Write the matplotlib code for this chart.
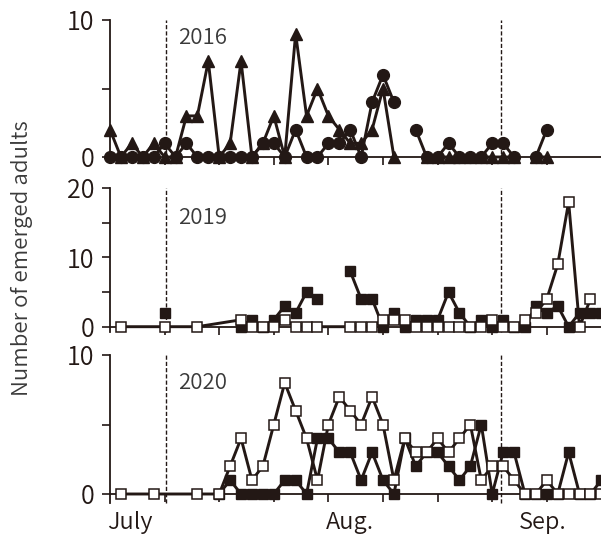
import numpy as np
import matplotlib
matplotlib.use("Agg")
import matplotlib.pyplot as plt

plt.rcParams['font.family'] = ['Noto Sans CJK JP', 'DejaVu Sans']
plt.rcParams['font.weight'] = 350

nan = np.nan
# days since start (x axis), sampled every 2 days
days = list(range(0, 92, 2))

# 2016
tri_2016 = [2, 0, 1, 0, 1, 0, 0, 3, 3, 7, 0, 1, 7, 0, 1, 3, 0, 9, 3, 5, 3, 2, 1, 1, 2, 5, 0,
            nan, nan, 0, 0, 0, 0, 0, 0, 0, 0, 0, nan, 0, 0, nan, nan, nan, nan, nan]
cir_2016 = [0, 0, 0, 0, 0, 1, 0, 1, 0, 0, 0, 0, 0, 0, 1, 1, 0, 2, 0, 0, 1, 1, 2, 0, 4, 6, 4,
            nan, 2, 0, 0, 1, 0, 0, 0, 1, 1, 0, nan, 0, 2, nan, nan, nan, nan, nan]

# 2019
fill_days_2019 = [10, 17, 24, 26, 28, 30, 32, 34, 36, 38, 41, 44, 46, 48, 50, 52, 54, 56, 58, 60, 62, 64,
                  66, 68, 70, 72, 74, 76, 78, 80, 82, 84, 86, 88, 90]
fill_2019 = [2, nan, 0, 1, 0, 1, 3, 2, 5, 4, nan, 8, 4, 4, 0, 2, 0, 1, 1, 1, 5, 2,
             0, 1, 0, 1, 0, 0, 3, 2, 3, 0, 2, 2, 2]
open_days_2019 = [2, 10, 16, 24, 26, 28, 30, 32, 34, 36, 38, 44, 46, 48, 50, 52, 54, 56, 58, 60, 62,
                  64, 66, 68, 70, 72, 74, 76, 78, 80, 82, 84, 86, 88]
open_2019 = [0, 0, 0, 1, 0, 0, 0, 1, 0, 0, 0, 0, 0, 0, 1, 1, 1, 0, 0, 0, 0,
             0, 0, 0, 1, 0, 0, 1, 2, 4, 9, 18, 0, 4]

# 2020
fill_days_2020 = list(range(20, 92, 2))
fill_2020 = [0, 1, 0, 0, 0, 0, 1, 1, 0, 4, 4, 3, 3, 1, 3, 1, 0, 4, 2, 3, 3, 2, 1, 2, 5, 0,
             3, 3, 0, 0, 0, 0, 3, 0, 0, 1]
open_days_2020 = [2, 8, 16] + list(range(20, 92, 2))
open_2020 = [0, 0, 0, 0, 2, 4, 1, 2, 5, 8, 6, 4, 1, 5, 7, 6, 5, 7, 5, 1, 4, 3, 3, 4, 3, 4, 5, 1,
             2, 2, 1, 0, 0, 1, 0, 0, 0, 0, 0]

year_labels = ["2016", "2019", "2020"]
ylims = [10, 20, 10]
ytick_major = [[0, 10], [0, 10, 20], [0, 10]]
ytick_minor = [[5], [5, 15], [5]]
month_labels = ["July", "Aug.", "Sep."]
month_pos = [3.7, 44.0, 79.3]
dash_days = [10.3, 71.7]

K = '#231815'
W, H = 601, 541
fig = plt.figure(figsize=(W / 100, H / 100), dpi=100)

px_day = 5.46
x0 = 110
panels = [(20, 157, -0.25), (188.3, 326.7, -0.77), (355, 494, -0.65)]
axes = []
for i, (top, zero, ylo) in enumerate(panels):
    ymax = ylims[i]
    ppu = (zero - top) / ymax
    bottom = zero - ylo * ppu
    ax = fig.add_axes([x0 / W, 1 - bottom / H, (90 * px_day) / W, (bottom - top) / H])
    ax.set_xlim(0, 90)
    ax.set_ylim(ylo, ymax)
    ax.spines['top'].set_visible(False)
    ax.spines['right'].set_visible(False)
    ax.spines['bottom'].set_position(('data', 0))
    for s in ['left', 'bottom']:
        ax.spines[s].set_linewidth(1.3)
        ax.spines[s].set_color(K)
    ax.set_xticks(range(10, 90, 10))
    ax.set_xticklabels([])
    ax.set_yticks(ytick_major[i] + ytick_minor[i])
    ax.set_yticklabels([str(v) for v in ytick_major[i]] + [''] * len(ytick_minor[i]))
    ax.tick_params(direction='out', length=6, width=1.2, color=K, labelsize=18,
                   labelcolor=K, pad=5)
    ax.patch.set_visible(False)
    for d in dash_days:
        ax.axvline(d, color=K, lw=1.0, ls=(0, (3, 1.5)), clip_on=False, zorder=1)
    axes.append(ax)

lw = 2.1
ax = axes[0]
ax.plot(days, tri_2016, '-^', color=K, lw=lw, ms=9, mec=K, mfc=K, clip_on=False, zorder=3)
ax.plot(days, cir_2016, '-o', color=K, lw=lw, ms=8.5, mec=K, mfc=K, clip_on=False, zorder=4)

ax = axes[1]
ax.plot(fill_days_2019, fill_2019, '-s', color=K, lw=lw, ms=7.8, mec=K, mfc=K, clip_on=False, zorder=3)
ax.plot(open_days_2019, open_2019, '-s', color=K, lw=lw, ms=7.8, mec=K, mfc='white', mew=1.1,
        clip_on=False, zorder=4)

ax = axes[2]
ax.plot(fill_days_2020, fill_2020, '-s', color=K, lw=lw, ms=7.8, mec=K, mfc=K, clip_on=False, zorder=3)
ax.plot(open_days_2020, open_2020, '-s', color=K, lw=lw, ms=7.8, mec=K, mfc='white', mew=1.1,
        clip_on=False, zorder=4)

year_y = [38, 218, 383]
for lab, yy in zip(year_labels, year_y):
    fig.text(178 / W, 1 - yy / H, lab, ha='left', va='center', fontsize=16, color='#3a3a3a')

for lab, d in zip(month_labels, month_pos):
    fig.text((x0 + d * px_day) / W, 1 - 523 / H, lab, ha='center', va='center', fontsize=17, color=K)

fig.text(22 / W, 1 - 258 / H, "Number of emerged adults", rotation=90, ha='center', va='center',
         fontsize=16, color='#3a3a3a')

fig.savefig("out.png", dpi=100)
